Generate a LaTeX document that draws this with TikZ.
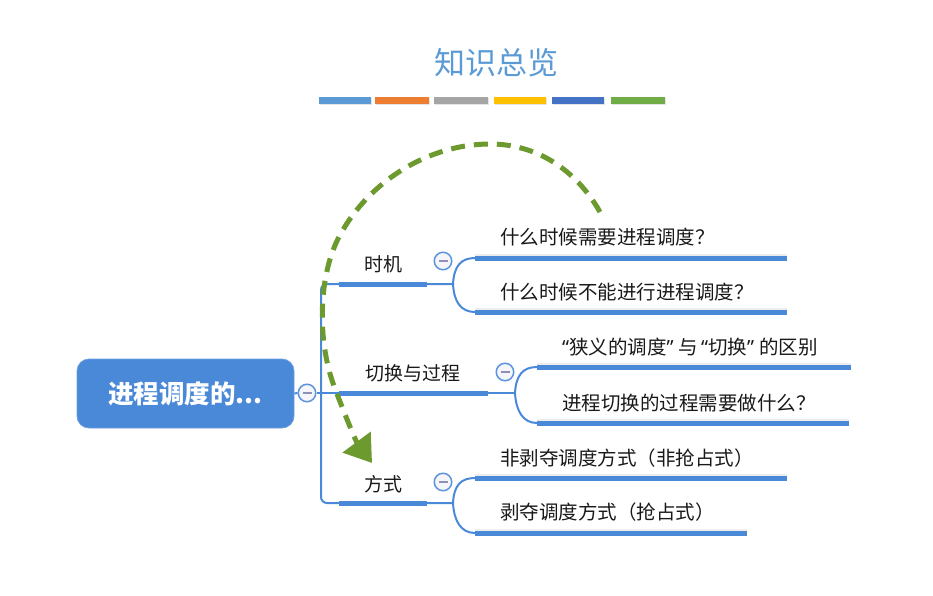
\documentclass[tikz,border=0pt]{standalone}
\usepackage{fontspec}
\newfontfamily\cjk{Noto Sans CJK SC}
\newfontfamily\lat{Noto Sans}
\usetikzlibrary{arrows.meta}
\definecolor{lnblue}{RGB}{74,136,216}
\definecolor{rootblue}{RGB}{74,136,216}
\definecolor{titleblue}{RGB}{91,155,213}
\definecolor{arrgreen}{RGB}{108,154,46}
\definecolor{barA}{RGB}{91,155,213}
\definecolor{barB}{RGB}{237,125,49}
\definecolor{barC}{RGB}{165,165,165}
\definecolor{barD}{RGB}{255,192,0}
\definecolor{barE}{RGB}{68,114,196}
\definecolor{barF}{RGB}{112,173,71}
\definecolor{minusgray}{RGB}{140,145,185}
\definecolor{collfill}{RGB}{246,246,250}
\definecolor{txt}{RGB}{25,25,25}
\newcommand\myopenq{{\lat“}}
\newcommand\mycloseq{{\lat”}\kern5pt}
\tikzset{
  thinline/.style={draw=lnblue, line width=2pt},
  thickline/.style={draw=lnblue, line width=5pt},
  shadowline/.style={draw=black!7, line width=5pt},
  rootbox/.style={fill=rootblue, draw=rootblue!80!white, line width=0.8pt, rounded corners=12pt,
    minimum width=217pt, minimum height=69pt, text=white,
    font=\cjk\fontsize{25.5}{30}\selectfont\bfseries},
  coll/.style={circle, draw=lnblue!90!white, line width=1.5pt, fill=collfill,
    minimum size=17.5pt, inner sep=0pt,
    path picture={\draw[minusgray, line width=1.4pt]
      ([xshift=-4.5pt]path picture bounding box.center) -- ([xshift=4.5pt]path picture bounding box.center);}},
  lbl/.style={text=txt, font=\cjk\fontsize{19}{23}\selectfont, inner sep=0pt},
  sub/.style={text=txt, font=\cjk\fontsize{19.5}{23}\selectfont, inner sep=0pt, anchor=west},
  dasharrow/.style={draw=arrgreen, line width=5pt, dash pattern=on 14pt off 9pt,
    -{Triangle[width=34pt,length=26pt]}}
}
\begin{document}
\begin{tikzpicture}[x=1pt,y=-1pt]
\useasboundingbox (0,0) rectangle (933,596);
% title
\node[text=titleblue, font=\cjk\fontsize{31}{36}\selectfont, inner sep=0pt] (title) at (496,63) {知识总览};
% bars
\foreach \a/\b/\c in {319/371/barA,375/429/barB,434/488/barC,494/546/barD,552/604/barE,611/665/barF}{
  \fill[black!10] (\a+1,98.5) rectangle (\b+1,105.5);
  \fill[\c] (\a,97) rectangle (\b,104);
}
% root
\node[rootbox] (root) at (185.5,393.5) {进程调度的...};
\node[coll] (c0) at (307,393) {};
% trunk coordinates
\coordinate (t1) at (321,284);
\coordinate (t2) at (321,393);
\coordinate (t3) at (321,503);
\coordinate (j1) at (453,284);
\coordinate (j2) at (515,393);
\coordinate (j3) at (453,503);
\draw[thinline] (root.east) -- (c0.west);
\draw[thinline, rounded corners=6pt] (j1) -- (t1) -- (t3) -- (j3);
\draw[thinline] (c0.east) -- (t2) -- (j2);
% branch labels
\node[lbl] (l1) at (383,264) {时机};
\node[lbl] (l2) at (413,373) {切换与过程};
\node[lbl] (l3) at (383,484) {方式};
\draw[thickline] (339,284) -- (427,284);
\draw[thickline] (339,393) -- (488,393);
\draw[thickline] (339,503) -- (427,503);
\node[coll] (c1) at (443,261) {};
\node[coll] (c2) at (505,372) {};
\node[coll] (c3) at (443,482) {};
% sub-branch coordinates
\coordinate (s1a) at (475,258); \coordinate (e1a) at (787,258);
\coordinate (s1b) at (475,312); \coordinate (e1b) at (787,312);
\coordinate (s2a) at (537,367); \coordinate (e2a) at (851,367);
\coordinate (s2b) at (537,423); \coordinate (e2b) at (849,423);
\coordinate (s3a) at (475,478); \coordinate (e3a) at (787,478);
\coordinate (s3b) at (475,533); \coordinate (e3b) at (747,533);
% curves
\draw[thinline] (j1) .. controls (454,266) and (461,258) .. (s1a);
\draw[thinline] (j1) .. controls (454,302) and (461,312) .. (s1b);
\draw[thinline] (j2) .. controls (516,375) and (523,367) .. (s2a);
\draw[thinline] (j2) .. controls (516,411) and (523,423) .. (s2b);
\draw[thinline] (j3) .. controls (454,485) and (461,478) .. (s3a);
\draw[thinline] (j3) .. controls (454,521) and (461,533) .. (s3b);
% sub lines
\foreach \s/\e in {s1a/e1a,s1b/e1b,s2a/e2a,s2b/e2b,s3a/e3a,s3b/e3b}{
  \draw[shadowline] ([yshift=1.5pt]\s) -- ([yshift=1.5pt]\e);
  \draw[thickline] (\s) -- (\e);
}
% sub texts
\node[sub] (x1a) at (500,237) {什么时候需要进程调度？};
\node[sub] (x1b) at (500,292) {什么时候不能进行进程调度？};
\node[sub] (x2a) at (562,347) {\myopenq 狭义的调度\mycloseq 与\kern3pt\myopenq 切换\mycloseq 的区别};
\node[sub] (x2b) at (562,403) {进程切换的过程需要做什么？};
\node[sub] (x3a) at (500,458) {非剥夺调度方式（非抢占式）};
\node[sub] (x3b) at (500,512) {剥夺调度方式（抢占式）};
% dashed arrow
\coordinate (a0) at (600,212);
\coordinate (a1) at (490,144);
\coordinate (a2) at (340,235);
\coordinate (a3) at (334,386);
\coordinate (a4) at (372,463);
\draw[dasharrow] (a0) .. controls (575,168) and (535,144) .. (a1)
  .. controls (430,144) and (370,180) .. (a2)
  .. controls (318,275) and (317,340) .. (a3)
  .. controls (340,402) and (355,440) .. (a4);
\end{tikzpicture}
\end{document}
